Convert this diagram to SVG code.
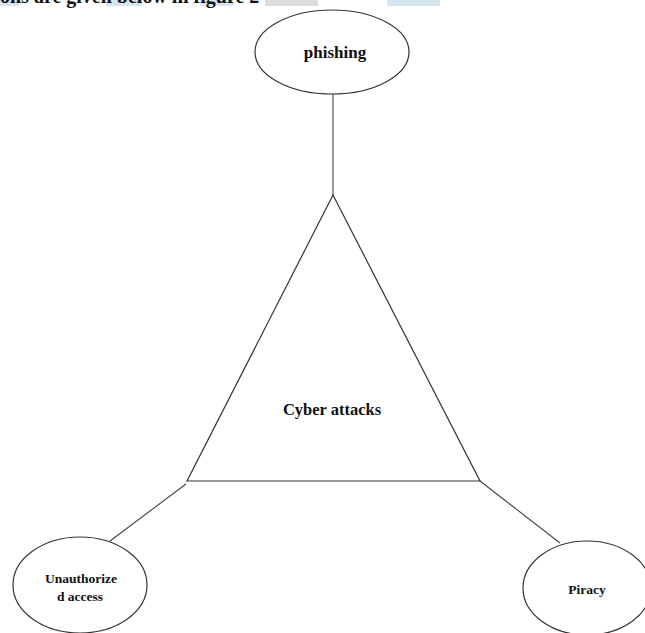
<svg xmlns="http://www.w3.org/2000/svg" width="645" height="633" viewBox="0 0 645 633">
<style>
.shape{fill:#fff;stroke:#333;stroke-width:1.2}
.conn{stroke:#444;stroke-width:1.1;fill:none}
.lbl{font-family:"Liberation Serif","Times New Roman",serif;font-weight:bold;fill:#111;text-anchor:middle}
.hdr{font-family:"Liberation Serif","Times New Roman",serif;font-weight:bold;fill:#111;font-size:20px}
.hl{fill:#d5e6f0}
</style>
<rect width="645" height="633" fill="#fff"/>
<g id="header">
<rect class="hl" x="0" y="0" width="19" height="6"/>
<rect class="hl" x="106" y="0" width="36" height="6"/>
<rect class="hl" x="200" y="0" width="33" height="6"/>
<rect x="265" y="0" width="53" height="6" fill="#dcdcdc"/>
<rect class="hl" x="387" y="0" width="53" height="6"/>
<text class="hdr" x="0" y="3">ons are given below in figure 2</text>
</g>
<g id="connectors">
<line class="conn" x1="333" y1="93" x2="333" y2="195"/>
<line class="conn" x1="186" y1="484" x2="110" y2="541"/>
<line class="conn" x1="480" y1="481" x2="560" y2="543"/>
</g>
<g id="phishing">
<ellipse class="shape" cx="332" cy="52" rx="77" ry="42"/>
<text class="lbl" x="335" y="58" font-size="17">phishing</text>
</g>
<g id="cyber-attacks">
<polygon class="shape" points="333,195 187,481 480,481"/>
<text class="lbl" x="332" y="415" font-size="16.5">Cyber attacks</text>
</g>
<g id="unauthorized-access">
<ellipse class="shape" cx="80" cy="585" rx="67" ry="48"/>
<text class="lbl" x="81" y="583" font-size="13.5">Unauthorize</text>
<text class="lbl" x="80" y="601" font-size="13.5">d access</text>
</g>
<g id="piracy">
<ellipse class="shape" cx="587" cy="588" rx="64" ry="47"/>
<text class="lbl" x="587" y="594" font-size="13.5">Piracy</text>
</g>
</svg>
